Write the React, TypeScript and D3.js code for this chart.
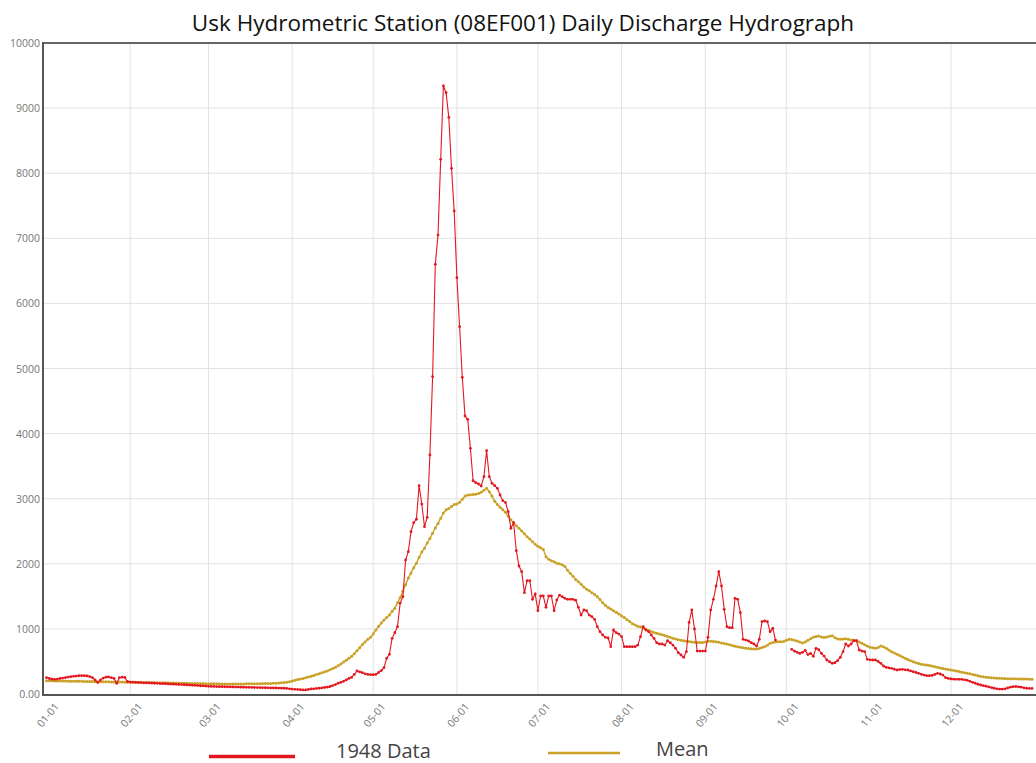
import React from "react";
import * as d3 from "d3";

// Daily discharge (m³/s) for the Usk station, 1948 and the long-term daily mean.
const TITLE = "Usk Hydrometric Station (08EF001) Daily Discharge Hydrograph";
const SERIES_NAMES = ["1948 Data", "Mean"];
const Y_TICKS = [0, 1000, 2000, 3000, 4000, 5000, 6000, 7000, 8000, 9000, 10000];
const YEAR = 1948;

// 1948 daily values, Jan 1 → Dec 31 (leap year, 366 days); null = no record
const flow1948: (number | null)[] = [
  // Jan
  250, 240, 228, 225, 230, 238, 245, 252, 260, 266, 272, 276, 280, 282, 282, 278, 268, 250, 215, 175,
  215, 245, 258, 262, 250, 240, 165, 250, 258, 255, 192,
  // Feb
  183, 182, 178, 177, 176, 172, 171, 170, 166, 165, 164, 160, 159, 158, 155, 152, 151, 149, 146, 145,
  142, 140, 138, 134, 133, 130, 127, 125, 121,
  // Mar
  118, 117, 116, 114, 113, 112, 111, 110, 109, 108, 107, 106, 105, 104, 103, 102, 101, 100, 99, 98,
  97, 96, 95, 94, 93, 92, 91, 90, 88, 85, 80,
  // Apr
  75, 72, 70, 65, 62, 62, 70, 78, 80, 85, 88, 95, 100, 105, 115, 130, 145, 165, 180, 195,
  215, 240, 255, 300, 353, 340, 327, 310, 300, 297,
  // May
  297, 300, 330, 360, 405, 548, 610, 855, 942, 1034, 1397, 1495, 2058, 2186, 2493, 2631, 2684, 3200, 2918, 2570,
  2714, 3671, 4874, 6600, 7050, 8213, 9340, 9237, 8858, 8075, 7420,
  // Jun
  6395, 5642, 4865, 4270, 4220, 3774, 3276, 3246, 3226, 3195, 3338, 3737, 3338, 3236, 3200, 3160, 3057, 2970, 2940, 2800,
  2545, 2631, 2201, 1966, 1879, 1556, 1740, 1740, 1455, 1536,
  // Jul
  1280, 1505, 1505, 1332, 1505, 1505, 1280, 1444, 1520, 1495, 1470, 1455, 1455, 1455, 1440, 1332, 1213, 1290, 1280, 1213,
  1188, 1147, 1034, 957, 906, 870, 860, 727, 983, 942, 921,
  // Aug
  880, 727, 727, 727, 727, 727, 752, 880, 1034, 983, 957, 906, 855, 788, 768, 768, 752, 818, 788, 752,
  702, 634, 599, 563, 650, 1100, 1290, 1000, 660, 660, 660,
  // Sep
  660, 870, 1290, 1455, 1659, 1879, 1659, 1301, 1034, 1019, 1019, 1470, 1455, 1249, 840, 829, 814, 788, 768, 737,
  840, 1111, 1121, 1111, 957, 1009, 829, null, null, null,
  // Oct
  null, null, 686, 660, 640, 624, 640, 670, 605, 624, 580, 702, 680, 624, 583, 522, 496, 471, 480, 512,
  563, 650, 768, 737, 768, 818, 818, 676, 660, 650, 532,
  // Nov
  525, 522, 522, 500, 471, 430, 410, 400, 394, 380, 369, 375, 379, 372, 369, 355, 343, 330, 318, 302,
  290, 281, 281, 285, 300, 318, 307, 290, 250, 240,
  // Dec
  232, 228, 225, 225, 224, 218, 210, 195, 180, 165, 150, 138, 128, 120, 108, 98, 88, 80, 75, 75,
  80, 92, 105, 112, 115, 110, 105, 95, 88, 85, 85,
];

// Long-term mean daily discharge, Jan 1 → Dec 31
const meanFlow: number[] = [
  // Jan
  205, 203, 202, 201, 200, 200, 199, 198, 197, 197, 196, 195, 195, 194, 193, 193, 192, 191, 190, 190,
  189, 188, 188, 187, 186, 185, 185, 184, 183, 182, 182,
  // Feb
  181, 181, 180, 179, 179, 178, 177, 176, 176, 175, 174, 173, 172, 172, 171, 170, 169, 168, 167, 166,
  165, 164, 163, 163, 162, 161, 160, 160, 159,
  // Mar
  158, 157, 156, 156, 155, 155, 155, 154, 154, 154, 154, 155, 155, 155, 156, 156, 157, 157, 158, 159,
  160, 161, 162, 163, 165, 167, 169, 172, 176, 181, 190,
  // Apr
  200, 210, 222, 232, 240, 250, 260, 272, 285, 298, 312, 325, 340, 355, 372, 390, 410, 435, 460, 490,
  520, 550, 580, 620, 665, 710, 760, 800, 840, 870,
  // May
  920, 985, 1040, 1090, 1137, 1175, 1213, 1270, 1316, 1400, 1480, 1580, 1680, 1780, 1860, 1940, 2010, 2100, 2180, 2240,
  2320, 2390, 2470, 2550, 2620, 2700, 2780, 2830, 2850, 2880, 2910,
  // Jun
  2920, 2945, 2990, 3040, 3055, 3060, 3065, 3070, 3080, 3100, 3130, 3160, 3105, 3040, 2960, 2910, 2870, 2830, 2790, 2730,
  2675, 2630, 2585, 2545, 2505, 2460, 2415, 2380, 2340, 2300,
  // Jul
  2270, 2245, 2220, 2110, 2070, 2045, 2030, 2010, 2000, 1985, 1960, 1900, 1850, 1810, 1760, 1725, 1685, 1645, 1610, 1585,
  1555, 1530, 1495, 1450, 1400, 1365, 1330, 1305, 1280, 1255, 1230,
  // Aug
  1200, 1175, 1140, 1115, 1080, 1060, 1040, 1028, 1015, 995, 975, 960, 945, 935, 922, 910, 898, 885, 870, 858,
  845, 835, 826, 818, 810, 805, 800, 795, 790, 790, 790,
  // Sep
  800, 812, 812, 808, 803, 795, 785, 775, 768, 758, 745, 735, 727, 718, 710, 704, 700, 696, 692, 690,
  700, 715, 727, 750, 778, 790, 800, 803, 803, 805,
  // Oct
  825, 840, 838, 825, 815, 800, 785, 800, 825, 850, 870, 885, 890, 875, 868, 875, 888, 895, 865, 845,
  840, 845, 850, 840, 830, 825, 818, 800, 778, 755, 737,
  // Nov
  720, 710, 702, 715, 737, 725, 702, 675, 650, 630, 612, 590, 570, 550, 530, 510, 496, 480, 468, 458,
  450, 445, 438, 430, 420, 410, 400, 392, 383, 378,
  // Dec
  370, 362, 355, 345, 335, 325, 318, 310, 300, 290, 280, 270, 264, 258, 252, 248, 246, 243, 241, 240,
  237, 235, 235, 234, 233, 231, 230, 230, 229, 228, 226,
];

const W = 1036;
const H = 763;
const PLOT = { left: 43, top: 43, right: 1040, bottom: 694 };
const RED = "#e3171f";
const GOLD = "#c9a227";
const FONT = "'Open Sans', 'Noto Sans', sans-serif";

type Pt = { date: Date; value: number | null };

export default function App() {
  const start = new Date(Date.UTC(YEAR, 0, 1));
  const end = new Date(Date.UTC(YEAR, 11, 31));
  const x = d3.scaleUtc().domain([start, end]).range([46.5, 46.5 + 365 * 2.7]);
  const y = d3.scaleLinear().domain([0, 10000]).range([PLOT.bottom, PLOT.top]);

  const toPts = (vals: (number | null)[]): Pt[] =>
    vals.map((v, i) => ({ date: d3.utcDay.offset(start, i), value: v }));
  const obs = toPts(flow1948);
  const mean = toPts(meanFlow);

  const line = d3
    .line<Pt>()
    .defined((d) => d.value != null)
    .x((d) => x(d.date))
    .y((d) => y(d.value as number));

  const months = d3.utcMonth.range(start, new Date(Date.UTC(YEAR + 1, 0, 1)));
  const fmt = d3.utcFormat("%m-%d");

  return (
    <svg
      width={W}
      height={H}
      style={{ position: "absolute", left: 0, top: 0, background: "#fff" }}
      fontFamily={FONT}
    >
      <defs>
        <clipPath id="plot-clip">
          <rect x={PLOT.left} y={PLOT.top - 2} width={PLOT.right - PLOT.left} height={PLOT.bottom - PLOT.top + 4} />
        </clipPath>
      </defs>

      <text x={523} y={31} textAnchor="middle" fontSize={22.5} fill="#111">
        {TITLE}
      </text>

      {/* grid */}
      <g stroke="#e2e2e2" strokeWidth={1}>
        {Y_TICKS.filter((t) => t > 0 && t < 10000).map((t) => (
          <line key={t} x1={PLOT.left} x2={PLOT.right} y1={y(t)} y2={y(t)} />
        ))}
        {months.slice(1).map((m) => (
          <line key={+m} x1={x(m)} x2={x(m)} y1={PLOT.top} y2={PLOT.bottom} />
        ))}
      </g>

      {/* y tick labels */}
      <g fontSize={10.5} fill="#777" textAnchor="end">
        {Y_TICKS.map((t) => (
          <text key={t} x={40} y={y(t) + 4}>
            {t === 0 ? "0.00" : String(t)}
          </text>
        ))}
      </g>

      {/* x tick labels */}
      <g fontSize={10.5} fill="#777" textAnchor="end">
        {months.map((m) => (
          <text key={+m} transform={`translate(${x(m) + 13},${PLOT.bottom + 13}) rotate(-50)`}>
            {fmt(m)}
          </text>
        ))}
      </g>

      {/* series */}
      <g clipPath="url(#plot-clip)">
        <path d={line(mean) || ""} fill="none" stroke={GOLD} strokeWidth={1.4} />
        <g fill={GOLD}>
          {mean.map((d, i) => (
            <circle key={i} cx={x(d.date)} cy={y(d.value as number)} r={1.5} />
          ))}
        </g>
        <path d={line(obs) || ""} fill="none" stroke={RED} strokeWidth={1.1} />
        <g fill={RED}>
          {obs
            .filter((d) => d.value != null)
            .map((d, i) => (
              <circle key={i} cx={x(d.date)} cy={y(d.value as number)} r={1.4} />
            ))}
        </g>
      </g>

      {/* frame */}
      <line x1={PLOT.left} x2={PLOT.right} y1={PLOT.top} y2={PLOT.top} stroke="#666" strokeWidth={2} />
      <line x1={PLOT.left} x2={PLOT.right} y1={PLOT.bottom + 1} y2={PLOT.bottom + 1} stroke="#555" strokeWidth={2} />
      <line x1={PLOT.left} x2={PLOT.left} y1={PLOT.top - 1} y2={PLOT.bottom + 2} stroke="#555" strokeWidth={2} />

      {/* legend */}
      <line x1={209} x2={295} y1={756.5} y2={756.5} stroke={RED} strokeWidth={3.5} />
      <text x={336} y={758} fontSize={20} fill="#444">
        {SERIES_NAMES[0]}
      </text>
      <line x1={548} x2={620} y1={753} y2={753} stroke={GOLD} strokeWidth={2.5} />
      <text x={656} y={756} fontSize={20} fill="#444">
        {SERIES_NAMES[1]}
      </text>
    </svg>
  );
}
